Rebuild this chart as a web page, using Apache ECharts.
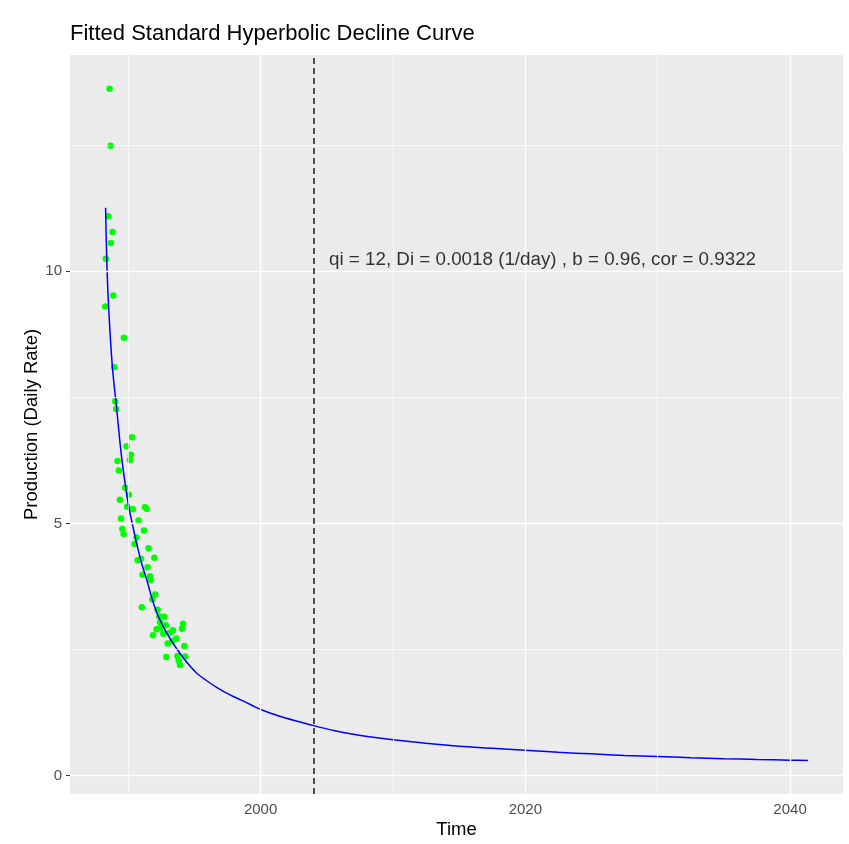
<!DOCTYPE html>
<html><head><meta charset="utf-8">
<script src="https://cdn.jsdelivr.net/npm/echarts@6/dist/echarts.min.js"></script>
<style>html,body{margin:0;padding:0;background:#fff}#c{width:849px;height:844px}</style>
</head><body><div id="c"></div>
<script>
// ---- data ----
const pointYears = [1988.59, 1988.67, 1988.49, 1988.81, 1988.69, 1988.31, 1988.87, 1988.26, 1989.67, 1988.94,
  1989.02, 1989.09, 1990.28, 1989.87, 1990.20, 1990.13, 1989.19, 1989.29, 1989.77, 1990.05,
  1989.37, 1989.92, 1990.35, 1991.26, 1991.39, 1989.45, 1990.78, 1989.55, 1991.19, 1989.65,
  1990.63, 1990.48, 1991.54, 1991.97, 1990.71, 1990.96, 1991.46, 1991.08, 1991.64, 1991.69,
  1992.04, 1991.82, 1991.03, 1992.22, 1992.35, 1992.72, 1992.40, 1994.14, 1992.85, 1992.45,
  1992.14, 1993.38, 1994.06, 1992.65, 1991.87, 1993.13, 1993.63, 1993.33, 1992.98, 1994.24,
  1992.88, 1993.71, 1994.31, 1993.81, 1993.91];
const pointValues = [13.62, 12.49, 11.09, 10.78, 10.56, 10.25, 9.52, 9.30, 8.68, 8.10,
  7.42, 7.27, 6.71, 6.53, 6.36, 6.26, 6.24, 6.05, 5.71, 5.57,
  5.47, 5.33, 5.28, 5.32, 5.29, 5.10, 5.06, 4.89, 4.86, 4.79,
  4.72, 4.59, 4.51, 4.32, 4.27, 4.30, 4.13, 3.98, 3.95, 3.88,
  3.59, 3.49, 3.34, 3.29, 3.16, 3.15, 3.04, 3.01, 2.98, 2.93,
  2.90, 2.88, 2.91, 2.81, 2.78, 2.83, 2.72, 2.67, 2.62, 2.57,
  2.35, 2.37, 2.36, 2.28, 2.19];
const curveYears = [1988.29, 1988.36, 1988.49, 1988.79, 1989.12, 1989.5, 1990.0, 1990.3, 1990.63, 1991.0,
  1991.39, 1991.75, 1992.14, 1992.6, 1993.15, 1993.78, 1994.41, 1995.1, 1995.93, 1996.8,
  1997.69, 1998.5, 1999.3, 2000, 2001.5, 2003, 2004, 2005.6, 2007, 2008.5,
  2010, 2012.5, 2015, 2017.5, 2020, 2022.5, 2025, 2027.5, 2030, 2032.5,
  2035, 2037.5, 2040, 2041.35];
const curveValues = [11.26, 10.4, 9.44, 8.14, 7.29, 6.31, 5.39, 5.0, 4.61, 4.22,
  3.89, 3.55, 3.24, 2.98, 2.72, 2.47, 2.25, 2.05, 1.88, 1.73,
  1.60, 1.50, 1.40, 1.31, 1.17, 1.06, 0.99, 0.89, 0.82, 0.76,
  0.71, 0.64, 0.58, 0.54, 0.50, 0.46, 0.43, 0.40, 0.38, 0.355,
  0.335, 0.318, 0.305, 0.30];
const xTickLabels = [2000, 2020, 2040];
const xMinorGrid = [1990, 2010, 2030];
const yTickLabels = [0, 5, 10];
const yMinorGrid = [2.5, 7.5, 12.5];
const cutoffYear = 2004;
const annotationText = 'qi = 12, Di = 0.0018 (1/day) , b = 0.96, cor = 0.9322';
const annotationPos = [2021.3, 10.22];
const xRange = [1985.6, 2044.0];
const yRange = [-0.366, 14.29];
const titleText = 'Fitted Standard Hyperbolic Decline Curve';
const xTitle = 'Time';
const yTitle = 'Production (Daily Rate)';

// ---- chart ----
const FONT = 'Liberation Sans, Arial, sans-serif';
const chart = echarts.init(document.getElementById('c'), null, {renderer: 'canvas'});
const gridLine = (axis, v, w) => ({[axis]: v, lineStyle: {color: '#FFFFFF', width: w, type: 'solid'}});
const gridMarks = [].concat(
  xMinorGrid.map(v => gridLine('xAxis', v, 0.7)),
  xTickLabels.map(v => gridLine('xAxis', v, 1.4)),
  yMinorGrid.map(v => gridLine('yAxis', v, 0.7)),
  yTickLabels.map(v => gridLine('yAxis', v, 1.4))
);
chart.setOption({
  animation: false,
  backgroundColor: '#FFFFFF',
  title: {text: titleText, left: 65, top: 18,
    textStyle: {fontFamily: FONT, fontSize: 22, fontWeight: 'normal', color: '#000'}},
  grid: {left: 70, right: 6, top: 55, bottom: 44, show: true, backgroundColor: '#EBEBEB', borderWidth: 0},
  xAxis: {type: 'value', min: xRange[0], max: xRange[1],
    name: xTitle, nameLocation: 'middle', nameGap: 26, nameMoveOverlap: false,
    nameTextStyle: {fontFamily: FONT, fontSize: 18.5, color: '#000'},
    axisLine: {show: false},
    axisTick: {show: true, customValues: xTickLabels, length: 4, lineStyle: {color: '#333', width: 1}},
    axisLabel: {customValues: xTickLabels, margin: 8, fontFamily: FONT, fontSize: 15, color: '#4D4D4D',
      formatter: v => String(v)},
    splitLine: {show: false}},
  yAxis: {type: 'value', min: yRange[0], max: yRange[1],
    name: yTitle, nameLocation: 'middle', nameGap: 29, nameRotate: 90, nameMoveOverlap: false,
    nameTextStyle: {fontFamily: FONT, fontSize: 18.5, color: '#000'},
    axisLine: {show: false},
    axisTick: {show: true, customValues: yTickLabels, length: 4, lineStyle: {color: '#333', width: 1}},
    axisLabel: {customValues: yTickLabels, margin: 8, fontFamily: FONT, fontSize: 15, color: '#4D4D4D',
      formatter: v => String(v)},
    splitLine: {show: false}},
  series: [
    {type: 'line', data: [], z: 1, silent: true,
      markLine: {silent: true, symbol: ['none', 'none'], label: {show: false}, data: gridMarks}},
    {type: 'scatter', z: 3, data: pointYears.map((x, i) => [x, pointValues[i]]),
      symbolSize: 6.5, itemStyle: {color: '#00FF00', opacity: 1}},
    {type: 'line', z: 4, data: curveYears.map((x, i) => [x, curveValues[i]]),
      showSymbol: false, smooth: 0.3,
      lineStyle: {color: '#0000FF', width: 1.5},
      markLine: {silent: true, symbol: ['none', 'none'], label: {show: false},
        lineStyle: {color: '#1A1A1A', width: 1.5, type: [6, 4]},
        data: [{xAxis: cutoffYear}]}},
    {type: 'scatter', z: 5, data: [annotationPos], symbolSize: 0, silent: true,
      label: {show: true, position: 'inside', formatter: annotationText,
        fontFamily: FONT, fontSize: 18.8, color: '#000'}}
  ]
});
</script></body></html>
